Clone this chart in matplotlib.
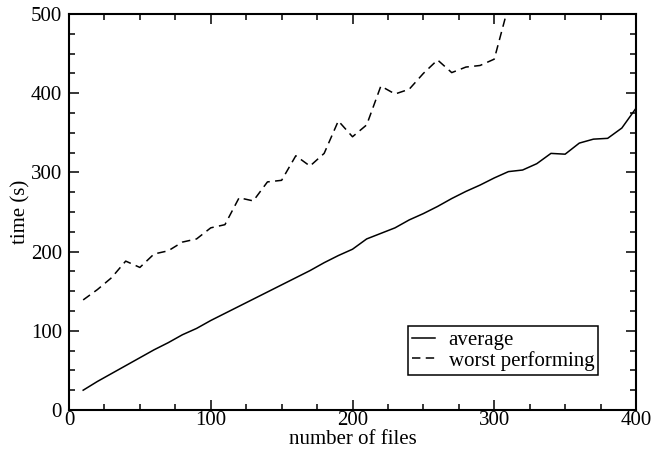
import matplotlib
matplotlib.use("Agg")
import matplotlib.pyplot as plt
from matplotlib.ticker import MultipleLocator

# number of files processed
n_files = [10, 20, 30, 40, 50, 60, 70, 80, 90, 100,
           110, 120, 130, 140, 150, 160, 170, 180, 190, 200,
           210, 220, 230, 240, 250, 260, 270, 280, 290, 300,
           310, 320, 330, 340, 350, 360, 370, 380, 390, 400]

# average time (s)
avg_time = [25, 36, 46, 56, 66, 76, 85, 95, 103, 113,
            122, 131, 140, 149, 158, 167, 176, 186, 195, 203,
            216, 223, 230, 240, 248, 257, 267, 276, 284, 293,
            301, 303, 311, 324, 323, 337, 342, 343, 356, 381]

# worst performing file (s), leaves the plot after 300
worst_files = [10, 20, 30, 40, 50, 60, 70, 80, 90, 100,
               110, 120, 130, 140, 150, 160, 170, 180, 190, 200,
               210, 220, 230, 240, 250, 260, 270, 280, 290, 300, 310]
worst_time = [139, 152, 167, 188, 180, 197, 201, 212, 216, 230,
              234, 268, 264, 288, 290, 321, 308, 324, 365, 345,
              360, 409, 399, 405, 425, 442, 426, 433, 435, 443, 510]

plt.rcParams["font.family"] = ["Liberation Serif", "DejaVu Serif"]
plt.rcParams["font.size"] = 15

fig = plt.figure(figsize=(6.52, 4.55), dpi=100)
ax = fig.add_axes([69 / 652, 1 - 410 / 455, 567 / 652, 396 / 455])

ax.plot(n_files, avg_time, "k-", lw=1.1, label="average")
ax.plot(worst_files, worst_time, "k-", lw=1.1, dashes=(5.5, 3.5),
        label="worst performing")

ax.set_xlim(0, 400)
ax.set_ylim(0, 500)
ax.xaxis.set_major_locator(MultipleLocator(100))
ax.xaxis.set_minor_locator(MultipleLocator(25))
ax.yaxis.set_major_locator(MultipleLocator(100))
ax.yaxis.set_minor_locator(MultipleLocator(25))
ax.tick_params(which="both", direction="in", top=True, right=True,
               width=1.1, labelsize=15)
ax.tick_params(axis="x", pad=1)
ax.tick_params(axis="y", pad=5)
ax.tick_params(which="major", length=7)
ax.tick_params(which="minor", length=4)
for sp in ax.spines.values():
    sp.set_linewidth(1.5)

ax.set_xlabel("number of files", fontsize=15, labelpad=0)
ax.set_ylabel("time (s)", fontsize=15, labelpad=0)

leg = ax.legend(loc="upper left", bbox_to_anchor=(0.598, 0.212),
                fancybox=False, framealpha=1, edgecolor="black",
                handlelength=1.1, handletextpad=0.65, borderpad=0.2,
                borderaxespad=0, labelspacing=0.05, fontsize=15)
leg.get_frame().set_linewidth(1.1)

fig.savefig("out.png", dpi=100)
